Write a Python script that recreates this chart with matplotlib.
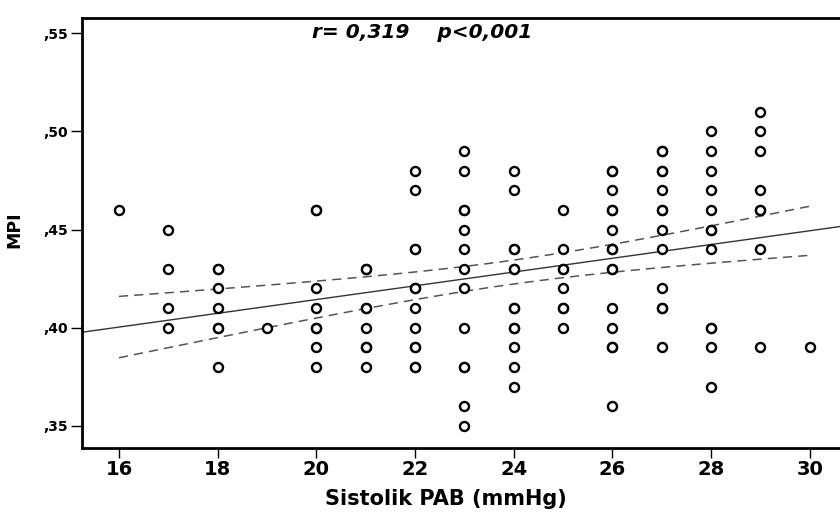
import matplotlib
matplotlib.use("Agg")
import matplotlib.pyplot as plt
import numpy as np

plt.rcParams['font.family'] = ['DejaVu Sans']

# MPI values, grouped by systolic PAB (mmHg)
pab_groups = {
    16: [0.46],
    17: [0.45, 0.43, 0.41, 0.40],
    18: [0.43, 0.42, 0.41, 0.40, 0.38],
    19: [0.40],
    20: [0.46, 0.42, 0.41, 0.40, 0.39, 0.38],
    21: [0.43, 0.41, 0.40, 0.39, 0.38],
    22: [0.48, 0.47, 0.44, 0.42, 0.41, 0.40, 0.39, 0.38],
    23: [0.49, 0.48, 0.46, 0.45, 0.44, 0.43, 0.42, 0.40, 0.38, 0.36, 0.35],
    24: [0.48, 0.47, 0.44, 0.43, 0.41, 0.40, 0.39, 0.38, 0.37],
    25: [0.46, 0.44, 0.43, 0.42, 0.41, 0.40],
    26: [0.48, 0.47, 0.46, 0.45, 0.44, 0.43, 0.41, 0.40, 0.39, 0.36],
    27: [0.49, 0.48, 0.47, 0.46, 0.45, 0.44, 0.42, 0.41, 0.39],
    28: [0.50, 0.49, 0.48, 0.47, 0.46, 0.45, 0.44, 0.40, 0.39, 0.37],
    29: [0.51, 0.50, 0.49, 0.47, 0.46, 0.44, 0.39],
    30: [0.39],
}
# points drawn darker in the picture (overlapping cases)
pab_repeats = {
    18: [0.43, 0.40],
    20: [0.46, 0.40],
    21: [0.43, 0.41, 0.39],
    22: [0.44, 0.42, 0.39, 0.38],
    23: [0.46, 0.38],
    24: [0.44, 0.43, 0.41, 0.40],
    25: [0.43, 0.41],
    26: [0.48, 0.46, 0.44, 0.43, 0.39],
    27: [0.49, 0.48, 0.46, 0.41],
    28: [0.45, 0.40],
    29: [0.46],
}
pab = np.array([k for d in (pab_groups, pab_repeats) for k, v in d.items() for _ in v],
               dtype=float)
mpi = np.array([y for d in (pab_groups, pab_repeats) for v in d.values() for y in v])

x_ticks = [16, 18, 20, 22, 24, 26, 28, 30]
y_ticks = [0.35, 0.40, 0.45, 0.50, 0.55]
y_tick_labels = [",35", ",40", ",45", ",50", ",55"]
stats_text = "r= 0,319    p<0,001"

# linear fit + 95% CI of the mean
n = len(pab)
slope, intercept = np.polyfit(pab, mpi, 1)
resid = mpi - (slope * pab + intercept)
s = np.sqrt(np.sum(resid ** 2) / (n - 2))
sxx = np.sum((pab - pab.mean()) ** 2)
t = 1.98

fig = plt.figure(figsize=(8.4, 5.16), dpi=100)
ax = fig.add_axes([0.0976, 0.1318, 0.914, 0.833])
ax.set_xlim(15.25, 30.81)
ax.set_ylim(0.3388, 0.5576)

xl = np.linspace(15.25, 30.81, 50)
ax.plot(xl, slope * xl + intercept, color="#333333", lw=1.0, zorder=2)
xc = np.linspace(pab.min(), pab.max(), 50)
half = t * s * np.sqrt(1 / n + (xc - pab.mean()) ** 2 / sxx)
for sign in (1, -1):
    ax.plot(xc, slope * xc + intercept + sign * half, color="#555555",
            lw=1.1, ls=(0, (6, 4)), zorder=2)

ax.plot(pab, mpi, "o", mfc="white", mec="black", ms=6.5, mew=1.7, zorder=3)

ax.text(19.91, 0.5505, stats_text, fontsize=14.5, fontweight="bold",
        fontstyle="italic", ha="left", va="center")

ax.set_xticks(x_ticks)
ax.set_xticklabels([str(v) for v in x_ticks], fontsize=14, fontweight="bold")
ax.set_yticks(y_ticks)
ax.set_yticklabels(y_tick_labels, fontsize=10, fontweight="bold")
ax.tick_params(axis="x", direction="out", length=7, width=1, pad=2)
ax.tick_params(axis="y", direction="out", length=8, width=1, pad=2)

for side in ("left", "bottom", "top"):
    ax.spines[side].set_linewidth(2)
ax.spines["right"].set_visible(False)

ax.set_xlabel("Sistolik PAB (mmHg)", fontsize=15, fontweight="bold")
ax.xaxis.set_label_coords(0.474, -0.096)
ax.set_ylabel("MPI", fontsize=12.5, fontweight="bold")
ax.yaxis.set_label_coords(-0.076, 0.509)

plt.savefig("out.png", dpi=100)
